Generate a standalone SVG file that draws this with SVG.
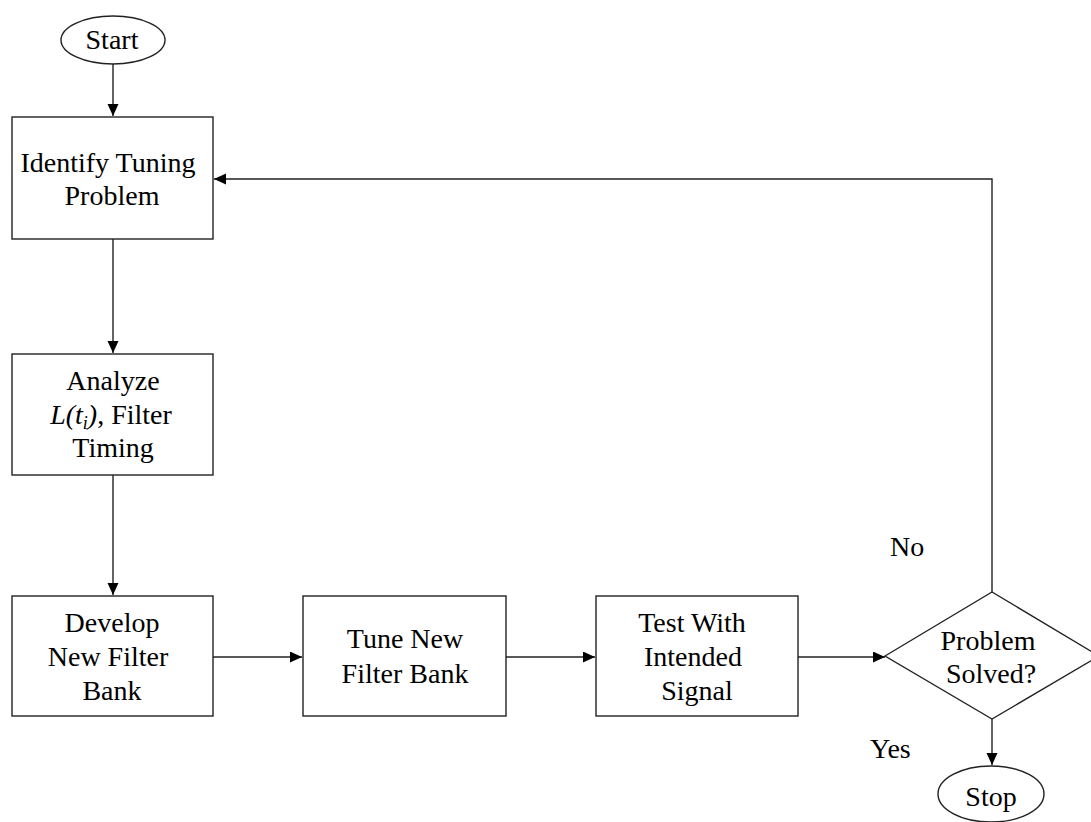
<svg xmlns="http://www.w3.org/2000/svg" width="1091" height="822" viewBox="0 0 1091 822">
<defs>
<marker id="arr" markerUnits="userSpaceOnUse" markerWidth="13" markerHeight="12" refX="12" refY="5.5" orient="auto">
<path d="M0,0 L12,5.5 L0,11 z" fill="#000"/>
</marker>
<style>
.box{fill:#fff;stroke:#222;stroke-width:1.4}
.t{font-family:"Liberation Serif","Times New Roman",serif;font-size:28px;fill:#000;text-anchor:middle}
.lbl{font-family:"Liberation Serif","Times New Roman",serif;font-size:28px;fill:#000}
.c{fill:none;stroke:#222;stroke-width:1.4}
</style>
</defs>
<rect width="1091" height="822" fill="#fff"/>
<g id="connectors">
<line class="c" x1="113" y1="63" x2="113" y2="116" marker-end="url(#arr)"/>
<line class="c" x1="113" y1="239" x2="113" y2="353" marker-end="url(#arr)"/>
<line class="c" x1="113" y1="475" x2="113" y2="595" marker-end="url(#arr)"/>
<line class="c" x1="213" y1="657" x2="302" y2="657" marker-end="url(#arr)"/>
<line class="c" x1="506" y1="657" x2="595" y2="657" marker-end="url(#arr)"/>
<line class="c" x1="798" y1="657" x2="885" y2="657" marker-end="url(#arr)"/>
<line class="c" x1="992" y1="719" x2="992" y2="765" marker-end="url(#arr)"/>
<polyline class="c" points="992,592 992,179 214,179" marker-end="url(#arr)"/>
<text class="lbl" x="890" y="556">No</text>
<text class="lbl" x="870" y="758">Yes</text>
</g>
<g id="start">
<ellipse class="box" cx="113" cy="40" rx="52" ry="24"/>
<text class="t" x="112" y="49">Start</text>
</g>
<g id="identify">
<rect class="box" x="12" y="117" width="201" height="122"/>
<text class="t" x="108" y="172">Identify Tuning</text>
<text class="t" x="112" y="205">Problem</text>
</g>
<g id="analyze">
<rect class="box" x="12" y="354" width="201" height="121"/>
<text class="t" x="113" y="390">Analyze</text>
<text class="t" x="111" y="424"><tspan font-style="italic">L(t</tspan><tspan font-style="italic" font-size="18" dy="5">i</tspan><tspan font-style="italic" dy="-5">)</tspan>, Filter</text>
<text class="t" x="113" y="457">Timing</text>
</g>
<g id="develop">
<rect class="box" x="12" y="596" width="201" height="120"/>
<text class="t" x="112" y="632">Develop</text>
<text class="t" x="108" y="666">New Filter</text>
<text class="t" x="112" y="700">Bank</text>
</g>
<g id="tune">
<rect class="box" x="303" y="596" width="203" height="120"/>
<text class="t" x="405" y="648">Tune New</text>
<text class="t" x="405" y="683">Filter Bank</text>
</g>
<g id="test">
<rect class="box" x="596" y="596" width="202" height="120"/>
<text class="t" x="692" y="632">Test With</text>
<text class="t" x="693" y="666">Intended</text>
<text class="t" x="697" y="700">Signal</text>
</g>
<g id="decision">
<polygon class="box" points="885,656 992,592 1099,656 992,719"/>
<text class="t" x="988" y="650">Problem</text>
<text class="t" x="991" y="683">Solved?</text>
</g>
<g id="stop">
<ellipse class="box" cx="991" cy="794" rx="53" ry="28"/>
<text class="t" x="991" y="806">Stop</text>
</g>
</svg>
